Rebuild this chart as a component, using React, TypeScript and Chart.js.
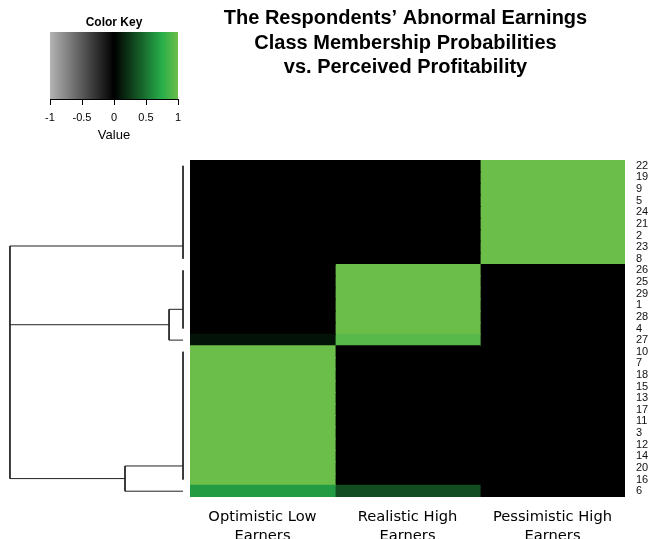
import React, { useEffect, useRef } from "react";
import { Chart, registerables } from "chart.js";

Chart.register(...registerables);

// ---------- data ----------
const titleLines = [
  "The Respondents’ Abnormal Earnings",
  "Class Membership Probabilities",
  "vs. Perceived Profitability",
];

const columnLabels = [
  ["Optimistic Low", "Earners"],
  ["Realistic High", "Earners"],
  ["Pessimistic High", "Earners"],
];

const rowLabels = [
  "22", "19", "9", "5", "24", "21", "2", "23", "8",
  "26", "25", "29", "1", "28", "4", "27",
  "10", "7", "18", "15", "13", "17", "11", "3", "12", "14", "20", "16", "6",
];

const optimisticLow = [
  0, 0, 0, 0, 0, 0, 0, 0, 0,
  0, 0, 0, 0, 0, 0, 0.08,
  1, 1, 1, 1, 1, 1, 1, 1, 1, 1, 1, 1, 0.67,
];
const realisticHigh = [
  0, 0, 0, 0, 0, 0, 0, 0, 0,
  1, 1, 1, 1, 1, 1, 0.92,
  0, 0, 0, 0, 0, 0, 0, 0, 0, 0, 0, 0, 0.33,
];
const pessimisticHigh = [
  1, 1, 1, 1, 1, 1, 1, 1, 1,
  0, 0, 0, 0, 0, 0, 0,
  0, 0, 0, 0, 0, 0, 0, 0, 0, 0, 0, 0, 0,
];
const columnValues = [optimisticLow, realisticHigh, pessimisticHigh];

const keyTicks = [-1, -0.5, 0, 0.5, 1];

// row dendrogram: groups of identical rows (joined at distance 0)
const leafRuns = [
  { first: 0, last: 8 },
  { first: 9, last: 14 },
  { first: 16, last: 27 },
];
// merges: height of merge, members (row position, height of member)
const dendroMerges = [
  { height: 0.114, members: [{ pos: 12.35, height: 0 }, { pos: 15, height: 0 }] },
  { height: 0.474, members: [{ pos: 25.83, height: 0 }, { pos: 28, height: 0 }] },
  {
    height: 1.414,
    members: [
      { pos: 6.9, height: 0 },
      { pos: 13.675, height: 0.114 },
      { pos: 26.915, height: 0.474 },
    ],
  },
];

// ---------- palette ----------
const paletteStops = [
  { v: -1, c: [179, 179, 179] },
  { v: 0, c: [0, 0, 0] },
  { v: 0.75, c: [39, 174, 74] },
  { v: 1, c: [108, 190, 74] },
];

function rgb(c: number[]) {
  return `rgb(${Math.round(c[0])},${Math.round(c[1])},${Math.round(c[2])})`;
}
function colorFor(v: number) {
  for (let i = 0; i < paletteStops.length - 1; i++) {
    const a = paletteStops[i];
    const b = paletteStops[i + 1];
    if (v >= a.v && v <= b.v) {
      const t = (v - a.v) / (b.v - a.v);
      return rgb(a.c.map((x, k) => x + (b.c[k] - x) * t));
    }
  }
  return rgb(v < 0 ? paletteStops[0].c : paletteStops[paletteStops.length - 1].c);
}

const SANS = '"Liberation Sans", Arial, sans-serif';
const DEJAVU = '"DejaVu Sans", Verdana, sans-serif';
const BOTTOM_AXIS_HEIGHT = 42;

function segmentDataset(pts: { x: number; y: number }[]) {
  return {
    type: "scatter" as const,
    xAxisID: "xd",
    yAxisID: "y",
    data: pts,
    showLine: true,
    borderColor: "#222",
    borderWidth: 1,
    pointRadius: 0,
    pointHoverRadius: 0,
  };
}

const mainTitlePlugin = {
  id: "mainTitle",
  afterDraw(chart: any) {
    const { ctx } = chart;
    const x = chart.scales.x;
    const cx = (x.left + x.right) / 2 - 2;
    ctx.save();
    ctx.font = `bold 20px ${SANS}`;
    ctx.fillStyle = "#000";
    ctx.textAlign = "center";
    ctx.textBaseline = "middle";
    titleLines.forEach((t, i) => ctx.fillText(t, cx, 18.5 + i * 24.5));
    ctx.restore();
  },
};

export default function App() {
  const mainRef = useRef<HTMLCanvasElement>(null);
  const keyRef = useRef<HTMLCanvasElement>(null);

  useEffect(() => {
    Chart.defaults.font.family = SANS;

    const heatDatasets = columnValues.map((vals, c) => ({
      type: "bar" as const,
      indexAxis: "y" as const,
      xAxisID: "x",
      yAxisID: "y",
      label: columnLabels[c].join(" "),
      data: rowLabels.map((_, i) => ({ y: i, x: [c, c + 1] })),
      backgroundColor: vals.map(colorFor),
      borderWidth: 0,
      inflateAmount: 0.6,
      barPercentage: 1,
      categoryPercentage: 1,
      grouped: false,
    }));

    const dendroDatasets: any[] = [];
    leafRuns.forEach((r) =>
      dendroDatasets.push(segmentDataset([{ x: 0, y: r.first }, { x: 0, y: r.last }]))
    );
    dendroMerges.forEach((m) => {
      m.members.forEach((mem) =>
        dendroDatasets.push(
          segmentDataset([{ x: mem.height, y: mem.pos }, { x: m.height, y: mem.pos }])
        )
      );
      const ps = m.members.map((mem) => mem.pos);
      dendroDatasets.push(
        segmentDataset([{ x: m.height, y: Math.min(...ps) }, { x: m.height, y: Math.max(...ps) }])
      );
    });

    const main = new Chart(mainRef.current!, {
      type: "bar",
      data: { datasets: [...heatDatasets, ...dendroDatasets] as any },
      options: {
        responsive: false,
        animation: false,
        events: [],
        layout: { padding: { left: 8, top: 160, right: 0, bottom: 0 } },
        plugins: { legend: { display: false }, tooltip: { enabled: false }, title: { display: false } },
        scales: {
          xd: {
            type: "linear",
            position: "bottom",
            stack: "bottomStack",
            stackWeight: 182,
            weight: 0,
            reverse: true,
            min: -0.057,
            max: 1.43,
            offset: false,
            display: false,
            grid: { display: false },
            afterFit: (s: any) => {
              s.height = BOTTOM_AXIS_HEIGHT;
              s.paddingLeft = 0;
              s.paddingRight = 0;
            },
          },
          x: {
            type: "linear",
            position: "bottom",
            stack: "bottomStack",
            stackWeight: 435,
            weight: 1,
            min: 0,
            max: 3,
            offset: false,
            grid: { display: false, drawTicks: false },
            border: { display: false },
            afterBuildTicks: (s: any) => {
              s.ticks = columnLabels.map((_, i) => ({ value: i + 0.5 }));
            },
            afterFit: (s: any) => {
              s.height = BOTTOM_AXIS_HEIGHT;
              s.paddingLeft = 0;
              s.paddingRight = 0;
            },
            ticks: {
              autoSkip: false,
              maxRotation: 0,
              minRotation: 0,
              padding: 11,
              color: "#000",
              font: { family: DEJAVU, size: 14.7, lineHeight: 1.27 },
              callback: (_v: any, i: number) => columnLabels[i],
            },
          },
          y: {
            type: "linear",
            position: "right",
            reverse: true,
            min: -0.5,
            max: 28.5,
            offset: false,
            grid: { display: false, drawTicks: false },
            border: { display: false },
            afterBuildTicks: (s: any) => {
              s.ticks = rowLabels.map((_, i) => ({ value: i }));
            },
            afterFit: (s: any) => {
              s.width = 27;
              s.paddingTop = 0;
              s.paddingBottom = 0;
            },
            ticks: {
              autoSkip: false,
              padding: 11,
              color: "#111",
              font: { family: SANS, size: 11 },
              callback: (v: any) => rowLabels[v],
            },
          },
        } as any,
      },
      plugins: [mainTitlePlugin],
    });

    const key = new Chart(keyRef.current!, {
      type: "bar",
      data: {
        labels: ["Value"],
        datasets: [
          {
            data: [[-1, 1]] as any,
            backgroundColor: (ctx: any) => {
              const area = ctx.chart.chartArea;
              if (!area) return "#000";
              const g = ctx.chart.ctx.createLinearGradient(area.left, 0, area.right, 0);
              paletteStops.forEach((s) => g.addColorStop((s.v + 1) / 2, rgb(s.c)));
              return g;
            },
            borderWidth: 0,
            barPercentage: 1,
            categoryPercentage: 1,
          },
        ],
      },
      options: {
        indexAxis: "y",
        responsive: false,
        animation: false,
        events: [],
        layout: { padding: { left: 50, right: 50, top: 0, bottom: 0 } },
        plugins: {
          legend: { display: false },
          tooltip: { enabled: false },
          title: {
            display: true,
            text: "Color Key",
            color: "#000",
            font: { family: SANS, size: 12, weight: "bold" },
            padding: { top: 15, bottom: 2.6 },
          },
        },
        scales: {
          x: {
            type: "linear",
            min: -1,
            max: 1,
            offset: false,
            afterBuildTicks: (s: any) => {
              s.ticks = keyTicks.map((v) => ({ value: v }));
            },
            afterFit: (s: any) => {
              s.height = 51;
            },
            ticks: {
              color: "#000",
              padding: 6,
              maxRotation: 0,
              font: { family: SANS, size: 11 },
              callback: (v: any) => String(v),
            },
            grid: { drawOnChartArea: false, drawTicks: true, tickLength: 6, color: "#000" },
            border: { display: true, color: "#000" },
            title: {
              display: true,
              text: "Value",
              color: "#000",
              font: { family: SANS, size: 13 },
              padding: { top: 3, bottom: 7 },
            },
          },
          y: { display: false },
        } as any,
      },
    });

    return () => {
      main.destroy();
      key.destroy();
    };
  }, []);

  return (
    <div
      style={{
        position: "fixed",
        left: 0,
        top: 0,
        width: 652,
        height: 539,
        background: "#fff",
        overflow: "hidden",
      }}
    >
      <canvas ref={mainRef} width={652} height={539} style={{ position: "absolute", left: 0, top: 0 }} />
      <canvas ref={keyRef} width={228} height={150} style={{ position: "absolute", left: 0, top: 0 }} />
    </div>
  );
}
